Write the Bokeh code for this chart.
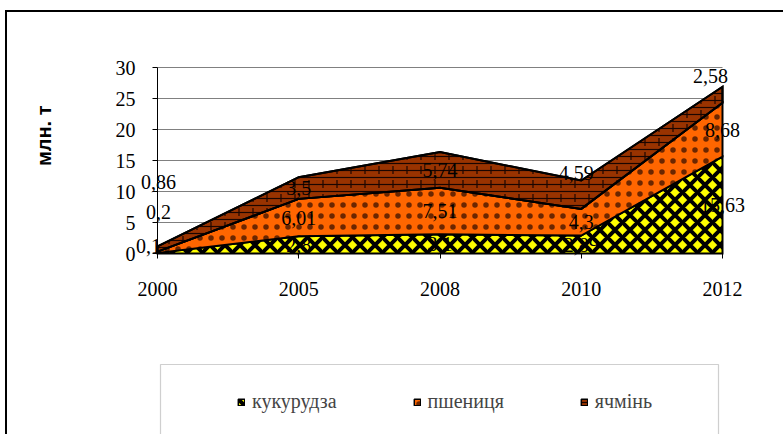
import numpy as np
from bokeh.plotting import figure
from bokeh.layouts import column
from bokeh.models import (Range1d, FixedTicker, ColumnDataSource, LabelSet, Title,
                          Legend, LegendItem, BoxAnnotation)
from bokeh.core.properties import value
from bokeh.embed import file_html
from bokeh.resources import INLINE

# ---- data ----
years = ["2000", "2005", "2008", "2010", "2012"]
corn = [0.1, 2.8, 3.1, 2.89, 15.63]
wheat = [0.2, 6.01, 7.51, 4.3, 8.68]
barley = [0.86, 3.5, 5.74, 4.59, 2.58]
series_names = ["кукурудза", "пшениця", "ячмінь"]
y_ticks = [0, 5, 10, 15, 20, 25, 30]
y_label = "млн. т"

# label nudges (pixels) - style only
label_dx = [[-9, 0, 0, 0, 0], [1, 0, 0, 0, 0], [1, 0, 0, -5, -12]]
label_dy = [[7, 0, 0, 0, 0], [40, 0, 0, 0, 0], [67, 0, 0, 22, 19]]

styles = [
    dict(fill_color="#FFFF00", hatch_pattern="diagonal_cross", hatch_color="black",
         hatch_scale=15, hatch_weight=4),
    dict(fill_color="#FF6600", hatch_pattern="dot", hatch_color="#3a1000",
         hatch_scale=11, hatch_weight=0.5, hatch_alpha=0.75),
    dict(fill_color="#993300", hatch_pattern="horizontal_line", hatch_color="#1a0500",
         hatch_scale=7, hatch_weight=1.2),
]
brick_joints = dict(fill_alpha=0, line_alpha=0, hatch_pattern="vertical_dash",
                    hatch_color="#1a0500", hatch_scale=14, hatch_weight=1.2)

serif = "Liberation Serif"

# ---- layout geometry ----
OX, OY = 7, 12                    # content origin inside the bordered box (page px)
W, H1, H2 = 776, 350, 72
FL, FB = 70, 60                   # frame left border, bottom border (chart figure)
x0_px, x4_px = 157 - OX, 722 - OX # where first / last category sit
y0_px, y30_px = 253 - OY, 67 - OY # where 0 / 30 sit (from top)
frame_bottom = H1 - FB
n = len(years)
ppx = (x4_px - x0_px) / (n - 1)
ppy = (y0_px - y30_px) / 30.0
x_start = -(x0_px - FL) / ppx
x_end = (n - 1) + (W - x4_px) / ppx
y_end = 30 + y30_px / ppy
y_start = -(frame_bottom - y0_px) / ppy

x = list(range(n))

p = figure(width=W, height=H1, output_backend="svg", toolbar_location=None,
           x_range=Range1d(x_start, x_end), y_range=Range1d(y_start, y_end),
           min_border_left=FL, min_border_right=0, min_border_top=0,
           min_border_bottom=FB)
p.outline_line_color = None

series = [corn, wheat, barley]
bottom = np.zeros(n)
renderers = []
lab_x, lab_y, lab_t, lab_dx, lab_dy = [], [], [], [], []
for i, vals in enumerate(series):
    v = np.array(vals, dtype=float)
    top = bottom + v
    xs = x + x[::-1]
    ys = list(top) + list(bottom[::-1])
    r = p.patch(xs, ys, line_color="black", line_width=2, line_join="miter", **styles[i])
    if i == 2:
        p.patch(xs, ys, **brick_joints)
        p.patch(xs, ys, fill_alpha=0, line_color="black", line_width=2, line_join="miter")
    renderers.append(r)
    for j in range(n):
        lab_x.append(x[j])
        lab_y.append(bottom[j] + v[j] / 2)
        lab_t.append(str(vals[j]).replace(".", ","))
        lab_dx.append(label_dx[i][j])
        lab_dy.append(label_dy[i][j])
    bottom = top

src = ColumnDataSource(dict(x=lab_x, y=lab_y, t=lab_t, dx=lab_dx, dy=lab_dy))
p.add_layout(LabelSet(x="x", y="y", text="t", source=src, x_offset="dx", y_offset="dy",
                      text_align="center", text_baseline="middle",
                      text_font=value(serif), text_font_size="20px", text_color="black"))

# axes
p.xaxis.ticker = FixedTicker(ticks=x)
p.xaxis.major_label_overrides = {i: yv for i, yv in enumerate(years)}
p.xaxis.bounds = (0, n - 1)
p.xaxis.fixed_location = 0
p.yaxis.ticker = FixedTicker(ticks=y_ticks)
p.yaxis.bounds = (0, 30)
p.yaxis.fixed_location = 0
for ax in (p.xaxis, p.yaxis):
    ax.axis_line_color = "black"
    ax.axis_line_width = 1
    ax.major_tick_line_color = "black"
    ax.major_tick_in = 0
    ax.major_tick_out = 5
    ax.minor_tick_line_color = None
    ax.major_label_text_font = serif
    ax.major_label_text_font_size = "20px"
    ax.major_label_text_color = "black"
p.xaxis.major_label_standoff = 23
p.yaxis.major_label_standoff = 17
p.xgrid.visible = False
p.ygrid.grid_line_color = "#808080"
p.ygrid.grid_line_width = 1
p.ygrid.cross_bounds = (0, n - 1)

p.add_layout(Title(text=y_label, align="right", offset=93, text_font="Liberation Sans",
                   text_font_style="bold", text_font_size="20px", text_color="black",
                   standoff=45), "left")

# ---- legend strip (its frame is aligned with the chart frame) ----
fl_pic = OX + FL                  # frame left on the page
q = figure(width=W, height=H2, output_backend="svg", toolbar_location=None,
           x_range=Range1d(0, 1), y_range=Range1d(0, 1), min_border=0,
           x_axis_location=None, y_axis_location=None)
q.xgrid.visible = False
q.ygrid.visible = False
q.outline_line_color = None
leg_r = [q.patch([5, 6, 6], [5, 5, 6], line_color="black", line_width=1.5, **st) for st in styles]

q.add_layout(BoxAnnotation(left=160 - fl_pic, right=718 - fl_pic, top=H2 - 2, bottom=-20,
                           left_units="screen", right_units="screen",
                           top_units="screen", bottom_units="screen",
                           fill_alpha=0, line_color="#606060", line_width=1.2))
q.add_layout(Legend(items=[LegendItem(label=nm, renderers=[r]) for nm, r in zip(series_names, leg_r)],
                    location=(237 - fl_pic, 21), orientation="horizontal", padding=0, margin=0,
                    spacing=76, glyph_width=8, glyph_height=8, label_standoff=7,
                    label_height=20, label_text_font=serif, label_text_font_size="20px",
                    border_line_alpha=0, background_fill_alpha=0))

layout = column(p, q, spacing=0,
                styles={"border-left": "2px solid black", "border-top": "2px solid black",
                        "margin-left": "5px", "margin-top": "10px"})

open("out.html", "w").write(file_html(layout, INLINE))
